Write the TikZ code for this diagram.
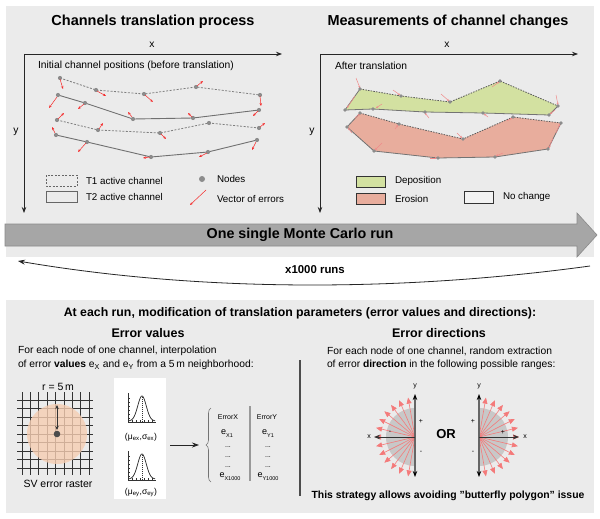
\documentclass[tikz,border=0pt]{standalone}
\usepackage{fontspec}
\setmainfont{Liberation Sans}
\usetikzlibrary{arrows.meta,decorations.pathreplacing}
\definecolor{panel}{HTML}{EBEBEB}
\definecolor{dotgray}{HTML}{8C8C8C}
\definecolor{linegray}{HTML}{707070}
\definecolor{errred}{HTML}{F52A2A}
\definecolor{errpink}{HTML}{F08A8A}
\definecolor{depo}{HTML}{D3E1A1}
\definecolor{eros}{HTML}{E8AD9D}
\definecolor{bigarrow}{HTML}{A6A6A6}
\definecolor{bigedge}{HTML}{8A8A8A}
\definecolor{raster}{HTML}{F6CDB2}
\definecolor{semigray}{HTML}{C8C8C8}
\definecolor{raycol}{HTML}{F47A7A}
\newcommand{\fz}[1]{\fontsize{#1}{#1}\selectfont}
\begin{document}
\begin{tikzpicture}[x=1pt,y=-1pt,
  txt/.style={inner sep=0pt,outer sep=0pt,text=black},
  ttl/.style={txt,font=\fz{14.5}\bfseries},
  subttl/.style={txt,font=\fz{12.5}\bfseries},
  body/.style={txt,font=\fz{10.3}},
  leg/.style={txt,font=\fz{9.8}},
  tiny/.style={txt,font=\fz{7}},
  axis/.style={draw=black!85,line width=0.8pt,-{Stealth[length=6pt,width=4.5pt]}},
  errv/.style={draw=errred,line width=0.5pt,-{Stealth[length=3pt,width=2.4pt]}},
  faint/.style={draw=errpink,line width=0.5pt,-{Stealth[length=2.2pt,width=2pt]}},
  dline/.style={draw=linegray!90,line width=0.8pt,dash pattern=on 2pt off 1.5pt},
  sline/.style={draw=linegray,line width=0.9pt},
  pdash/.style={draw=black!65,line width=0.8pt,dash pattern=on 1.5pt off 1.2pt},
  psolid/.style={draw=black!55,line width=0.8pt},
  ray/.style={draw=raycol,line width=0.6pt,-{Triangle[length=6pt,width=5pt]}},
  yax/.style={draw=black!60,line width=1.4pt,{Stealth[length=6pt,width=4.5pt,black]}-{Stealth[length=6pt,width=4.5pt,black]}},
  xax/.style={draw=black!80,line width=0.9pt,-{Stealth[length=6pt,width=4.5pt]}}
]
\useasboundingbox (0,0) rectangle (600,519);
\fill[white] (0,0) rectangle (600,519);
% panels
\fill[panel] (6,6) rectangle (594,257);
\fill[panel] (6,300) rectangle (594,513);

% ---------------- top left ----------------
\node[ttl] (t1) at (153,22) {Channels translation process};
\coordinate (o1) at (24,54);
\coordinate (xe1) at (282,54);
\coordinate (ye1) at (24,213);
\draw[axis] (o1) -- (xe1);
\draw[axis] (o1) -- (ye1);
\node[body] (x1) at (152,45) {x};
\node[body] (y1) at (16,132) {y};
\node[body,anchor=west] (init) at (38,66) {Initial channel positions (before translation)};

\draw[dline] (60,78) -- (96,90) -- (144,94) -- (196,87) -- (260,95);
\draw[sline] (58,95) -- (85,103) -- (133,119) -- (193,118) -- (259,110);
\draw[dline] (57,120) -- (98,130) -- (160,133) -- (209,123) -- (259,128);
\draw[sline] (56,135) -- (87,142) -- (151,157) -- (208,152) -- (257,140);
\foreach \p in {(60,78),(96,90),(144,94),(196,87),(260,95),
  (58,95),(85,103),(133,119),(193,118),(259,110),
  (57,120),(98,130),(160,133),(209,123),(259,128),
  (56,135),(87,142),(151,157),(208,152),(257,140)}
  \fill[dotgray] \p circle (2.1);
\draw[errv] (60,79) -- (63,89);
\draw[errv] (97,91) -- (106,96);
\draw[errv] (145,95) -- (153,102);
\draw[errv] (197,86) -- (203,81);
\draw[errv] (260,96) -- (261,106);
\draw[errv] (57,97) -- (49,108);
\draw[errv] (84,104) -- (78,109);
\draw[errv] (132,117) -- (128,112);
\draw[errv] (192,117) -- (188,113);
\draw[errv] (258,111) -- (253,116);
\draw[errv] (58,119) -- (64,113);
\draw[errv] (99,129) -- (103,123);
\draw[errv] (161,134) -- (166,139);
\draw[errv] (260,127) -- (265,123);
\draw[errv] (55,133) -- (52,127);
\draw[errv] (86,143) -- (78,152);
\draw[errv] (150,157) -- (143,158);
\draw[errv] (207,153) -- (199,157);
\draw[errv] (256,142) -- (252,150);

% legend left
\draw[draw=black!60,line width=0.7pt,dash pattern=on 2pt off 1.5pt] (46,175) rectangle (77,186);
\node[leg,anchor=west] (lt1) at (86,181) {T1 active channel};
\draw[draw=black!60,line width=0.7pt] (46,191) rectangle (77,202);
\node[leg,anchor=west] (lt2) at (86,197) {T2 active channel};
\fill[dotgray] (202,179) circle (3);
\node[leg,anchor=west] (lnd) at (217,179) {Nodes};
\draw[errv] (206,190) -- (190,205);
\node[leg,anchor=west] (lve) at (217,199) {Vector of errors};

% ---------------- top right ----------------
\node[ttl] (t2) at (448,22) {Measurements of channel changes};
\coordinate (o2) at (320,54);
\coordinate (xe2) at (578,54);
\coordinate (ye2) at (320,213);
\draw[axis] (o2) -- (xe2);
\draw[axis] (o2) -- (ye2);
\node[body] (x2) at (447,45) {x};
\node[body] (y2) at (312,132) {y};
\node[body,anchor=west] (after) at (335,66) {After translation};

\fill[depo] (360,89) -- (401,96) -- (450,102) -- (500,81) -- (558,106) -- (549,115) -- (483,113) -- (425,112) -- (373,109) -- (345,110) -- cycle;
\draw[pdash] (360,89) -- (401,96) -- (450,102) -- (500,81) -- (558,106);
\draw[psolid] (558,106) -- (549,115) -- (483,113) -- (425,112) -- (373,109) -- (345,110) -- (360,89);
\fill[eros] (360,113) -- (399,124) -- (463,139) -- (513,117) -- (561,123) -- (548,149) -- (495,157) -- (438,158) -- (374,151) -- (347,127) -- cycle;
\draw[pdash] (360,113) -- (399,124) -- (463,139) -- (513,117) -- (561,123);
\draw[psolid] (561,123) -- (548,149) -- (495,157) -- (438,158) -- (374,151) -- (347,127) -- (360,113);

\draw[faint] (356,78) -- (360,88);
\draw[faint] (393,90) -- (400,95);
\draw[faint] (441,94) -- (449,101);
\draw[faint] (492,87) -- (499,82);
\draw[faint] (556,95) -- (558,105);
\draw[faint] (355,96) -- (347,108);
\draw[faint] (382,104) -- (376,108);
\draw[faint] (429,118) -- (425,113);
\draw[faint] (488,117) -- (484,114);
\draw[faint] (555,110) -- (550,114);
\draw[faint] (355,118) -- (360,114);
\draw[faint] (395,129) -- (398,125);
\draw[faint] (457,133) -- (462,138);
\draw[faint] (507,121) -- (512,118);
\draw[faint] (556,133) -- (560,124);
\draw[faint] (553,138) -- (549,148);
\draw[faint] (503,153) -- (496,156);
\draw[faint] (430,158) -- (437,158);
\draw[faint] (382,143) -- (375,150);
\draw[faint] (352,133) -- (348,128);
\foreach \p in {(360,89),(401,96),(450,102),(500,81),(558,106),(549,115),(483,113),(425,112),(373,109),(345,110),
  (360,113),(399,124),(463,139),(513,117),(561,123),(548,149),(495,157),(438,158),(374,151),(347,127)}
  \fill[dotgray] \p circle (1.9);

% legend right
\draw[fill=depo,draw=black!80,line width=0.7pt] (356,176) rectangle (385,187);
\node[leg,anchor=west] (ldep) at (395,181) {Deposition};
\draw[fill=eros,draw=black!80,line width=0.7pt] (356,193) rectangle (385,204);
\node[leg,anchor=west] (lero) at (395,199) {Erosion};
\draw[fill=panel!60!white,draw=black!80,line width=0.7pt] (464,191) rectangle (493,203);
\node[leg,anchor=west] (lnc) at (503,197) {No change};

% ---------------- big arrow ----------------
\filldraw[fill=bigarrow,draw=bigedge,line width=0.6pt] (5,224) -- (577,224) -- (577,213) -- (597,235) -- (577,257) -- (577,246) -- (5,246) -- cycle;
\node[txt,font=\fz{14.3}\bfseries] (mc) at (300,235) {One single Monte Carlo run};

\coordinate (cs) at (590,266);
\coordinate (ce) at (18,261);
\draw[line width=0.8pt,black!85,-{Stealth[length=7pt,width=5pt]}] (cs) .. controls (400,292) and (200,292) .. (ce);
\node[txt,font=\fz{11.4}\bfseries] (runs) at (315,270) {x1000 runs};

% ---------------- bottom ----------------
\node[txt,font=\fz{12.3}\bfseries] (bt) at (300,313) {At each run, modification of translation parameters (error values and directions):};
\node[subttl] (ev) at (148,333) {Error values};
\node[subttl] (ed) at (439,333) {Error directions};
\node[body,anchor=west] (evl1) at (18,351) {For each node of one channel, interpolation};
\node[body,anchor=west] (evl2) at (18,365) {of error \textbf{values} e\textsubscript{X} and e\textsubscript{Y} from a 5\,m neighborhood:};
\node[body,anchor=west] (edl1) at (327,351) {For each node of one channel, random extraction};
\node[body,anchor=west] (edl2) at (327,365) {of error \textbf{direction} in the following possible ranges:};
\draw[black!70,line width=1.2pt] (300,360) -- (300,496);

% raster
\foreach \i in {0,...,8} \draw[black!80,line width=0.8pt] ({22+8.4*\i},392) -- ({22+8.4*\i},475);
\foreach \j in {0,...,8} \draw[black!80,line width=0.8pt] (17,{400+8.5*\j}) -- (93,{400+8.5*\j});
\fill[raster,fill opacity=0.8] (57,434) circle (30);
\fill[black!70] (57,434) circle (3.3);
\coordinate (rc) at (57,430);
\coordinate (rt) at (57,405);
\draw[black!80,line width=0.8pt,{Stealth[length=4pt,width=3.5pt]}-{Stealth[length=4pt,width=3.5pt]}] (rc) -- (rt);
\node[txt,font=\fz{10.5}] (r5) at (58,387) {r = 5\,m};
\node[txt,font=\fz{10.5}] (sv) at (58,484) {SV error raster};

% gaussians
\fill[white] (114,378) rectangle (166,499);
\foreach \yo/\nm in {422/g1,480/g2}{
  \draw[black!80,line width=0.7pt] (128,\yo-29) -- (128,\yo) -- (156,\yo);
  \foreach \k in {1,...,6} \draw[black!80,line width=0.4pt] (128,\yo-4*\k) -- (130,\yo-4*\k);
  \foreach \k in {1,...,6} \draw[black!80,line width=0.4pt] (128+4*\k,\yo) -- (128+4*\k,\yo-2);
  \draw[black!85,line width=0.7pt] plot[domain=-13:13,samples=50,smooth] ({142+\x},{\yo-1-25*exp(-(\x)^2/36)});
  \draw[black!80,line width=0.5pt,dash pattern=on 1pt off 1pt] (142,\yo) -- (142,\yo-25);
}
\node[txt,font=\fz{8.6}] (mx) at (141,437) {(μ\textsubscript{ex},σ\textsubscript{ex})};
\node[txt,font=\fz{8.6}] (my) at (141,493) {(μ\textsubscript{ey},σ\textsubscript{ey})};

\coordinate (as) at (170,445);
\coordinate (ae) at (199,445);
\draw[black!85,line width=0.8pt,-{Stealth[length=7pt,width=5pt]}] (as) -- (ae);
\draw[black!55,line width=0.6pt,decorate,decoration={brace,amplitude=5pt}] (211,482) -- (211,408);

\node[tiny] (hx) at (228,417) {ErrorX};
\node[tiny] (hy) at (267,417) {ErrorY};
\draw[black!40,line width=1.2pt] (250,406) -- (250,481);
\newcommand{\ee}[1]{\fz{9}e\raisebox{-3pt}{\fz{5.5}#1}}
\node[txt] (ex1) at (227,434) {\ee{X1}};
\node[txt] (ey1) at (268,434) {\ee{Y1}};
\node[txt] (exn) at (230,477) {\ee{X1000}};
\node[txt] (eyn) at (268,477) {\ee{Y1000}};
\foreach \yy in {447,457,467}{
  \node[tiny] at (228,\yy) {...};
  \node[tiny] at (268,\yy) {...};
}

% direction half-discs
\coordinate (cl) at (415,437);
\fill[semigray] (cl) -- ++(90:29) arc (90:270:29) -- cycle;
\foreach \a in {100,113.3,126.7,140,153.3,166.7,180,193.3,206.7,220,233.3,246.7,260}
  \draw[ray] (cl) -- ++(\a:40);
\coordinate (clt) at (415,394);
\coordinate (clb) at (415,477);
\coordinate (clx) at (374,437);
\draw[yax] (clb) -- (clt);
\draw[xax] (cl) -- (clx);
\node[tiny] (ylab1) at (415,386) {y};
\node[tiny] (xlab1) at (369,437) {x};
\node[tiny] (p1) at (421,421) {+};
\node[tiny] (m1) at (421,452) {-};
\node[tiny] (m2) at (390,432) {-};

\node[txt,font=\fz{13}\bfseries] (or) at (446,434) {OR};

\coordinate (cr) at (479,437);
\fill[semigray] (cr) -- ++(-90:29) arc (-90:90:29) -- cycle;
\foreach \a in {-80,-66.7,-53.3,-40,-26.7,-13.3,0,13.3,26.7,40,53.3,66.7,80}
  \draw[ray] (cr) -- ++(\a:40);
\coordinate (crt) at (479,394);
\coordinate (crb) at (479,477);
\coordinate (crx) at (519,437);
\draw[yax] (crb) -- (crt);
\draw[xax] (cr) -- (crx);
\node[tiny] (ylab2) at (479,386) {y};
\node[tiny] (xlab2) at (525,437) {x};
\node[tiny] (p2) at (473,421) {+};
\node[tiny] (m3) at (473,452) {-};
\node[tiny] (p3) at (503,432) {+};

\node[txt,font=\fz{10.4}\bfseries] (strat) at (448,496) {This strategy allows avoiding "butterfly polygon" issue};
\end{tikzpicture}
\end{document}
